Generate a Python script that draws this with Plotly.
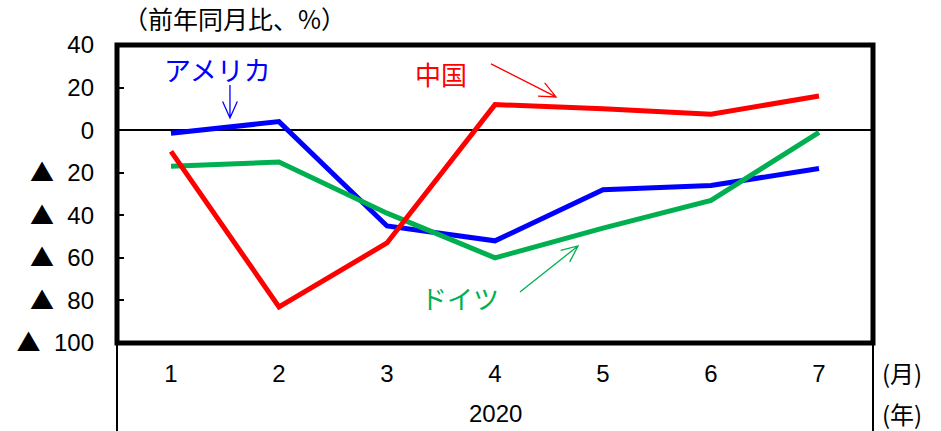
import math
import plotly.graph_objects as go

# Monthly year-on-year change (%), 2020
months = [1, 2, 3, 4, 5, 6, 7]
month_labels = ["1", "2", "3", "4", "5", "6", "7"]
usa = [-1.5, 4, -45, -52, -28, -26, -18]
china = [-10, -83, -53, 12, 10, 7.5, 16]
germany = [-17, -15, -39, -60, -46, -33, -1]

y_ticks = [40, 20, 0, -20, -40, -60, -80, -100]
y_tick_values_shown = ["40", "20", "0", "20", "40", "60", "80", "100"]

BLUE = "#0000FF"
RED = "#FF0000"
GREEN = "#00B050"
NUM_FONT = "Liberation Sans Narrow, Liberation Sans, Arial, sans-serif"
JP_FONT = "Noto Sans CJK JP, sans-serif"

# negative values are written with a leading triangle
tri = '<span style="font-family:Noto Sans CJK JP">▲</span>'
y_tick_text = [s if v >= 0 else f"{tri}  {s}" for v, s in zip(y_ticks, y_tick_values_shown)]

# plot-area geometry
L, R, T, B = 117, 68, 45, 88
W, H = 941, 431
plot_w = W - L - R
plot_h = H - T - B
PX_X = plot_w / 7.0
PX_Y = plot_h / 140.0


def px(pix):
    return (pix - L) / plot_w


def py(pix):
    return (H - B - pix) / plot_h


fig = go.Figure()
for name, vals, col in [("アメリカ", usa, BLUE), ("ドイツ", germany, GREEN), ("中国", china, RED)]:
    fig.add_trace(go.Scatter(x=months, y=vals, mode="lines", name=name,
                             line=dict(color=col, width=5), showlegend=False))


def arrow(x0, y0, x1, y1, color, arm_px=18, spread=0.42):
    """Thin arrow with an open V head, coordinates in data units."""
    dx = (x1 - x0) * PX_X
    dy = -(y1 - y0) * PX_Y
    ang = math.atan2(dy, dx)
    pts = []
    for s in (spread, -spread):
        a = ang + math.pi + s
        hx = x1 + arm_px * math.cos(a) / PX_X
        hy = y1 - arm_px * math.sin(a) / PX_Y
        pts.append((hx, hy))
    path = (f"M {x0},{y0} L {x1},{y1} "
            f"M {pts[0][0]},{pts[0][1]} L {x1},{y1} L {pts[1][0]},{pts[1][1]}")
    fig.add_shape(type="path", path=path, xref="x", yref="y",
                  line=dict(color=color, width=1.3))


arrow(1.546, 21.2, 1.546, 5.7, BLUE)
arrow(3.963, 31.1, 4.565, 15.6, RED)
arrow(4.231, -76.0, 4.769, -54.4, GREEN)

fig.add_annotation(x=1.435, y=28.3, text="アメリカ", showarrow=False,
                   font=dict(color=BLUE, size=27, family=JP_FONT))
fig.add_annotation(x=3.5, y=26.8, text="中国", showarrow=False,
                   font=dict(color=RED, size=26, family=JP_FONT))
fig.add_annotation(x=3.676, y=-78.4, text="ドイツ", showarrow=False,
                   font=dict(color=GREEN, size=26, family=JP_FONT))

# unit caption and axis captions
fig.add_annotation(xref="paper", yref="paper", x=px(121), y=py(18), xanchor="left", yanchor="middle",
                   text="（前年同月比、%）", showarrow=False,
                   font=dict(size=25, color="black", family=JP_FONT))
fig.add_annotation(xref="paper", yref="paper", x=0.5, y=py(413), xanchor="center", yanchor="middle",
                   text="2020", showarrow=False,
                   font=dict(size=24, color="black", family=NUM_FONT))
fig.add_annotation(xref="paper", yref="paper", x=px(880), y=py(372), xanchor="left", yanchor="middle",
                   text="(月)", showarrow=False,
                   font=dict(size=24, color="black", family=JP_FONT))
fig.add_annotation(xref="paper", yref="paper", x=px(880), y=py(413), xanchor="left", yanchor="middle",
                   text="(年)", showarrow=False,
                   font=dict(size=24, color="black", family=JP_FONT))

# frame around the plot area and the category dividers below it
fig.add_shape(type="rect", xref="paper", yref="paper", x0=0, x1=1, y0=0, y1=1,
              line=dict(color="black", width=5), layer="above")
for xv in (0, 1):
    fig.add_shape(type="line", xref="paper", yref="paper", x0=xv, x1=xv, y0=0, y1=py(440),
                  line=dict(color="black", width=2))

fig.update_xaxes(range=[0.5, 7.5], tickvals=months, ticktext=month_labels,
                 showgrid=False, zeroline=False, showline=False, ticks="",
                 ticklabelstandoff=14,
                 tickfont=dict(size=24, color="black", family=NUM_FONT))
fig.update_yaxes(range=[-100, 40], tickvals=y_ticks, ticktext=y_tick_text,
                 showgrid=False, zeroline=True, zerolinecolor="black", zerolinewidth=2,
                 showline=False, ticks="inside", ticklen=7, tickwidth=2, tickcolor="black",
                 ticklabelstandoff=22,
                 tickfont=dict(size=24, color="black", family=NUM_FONT))

fig.update_layout(width=W, height=H, margin=dict(l=L, r=R, t=T, b=B),
                  paper_bgcolor="white", plot_bgcolor="white")

fig.write_html("out.html")
